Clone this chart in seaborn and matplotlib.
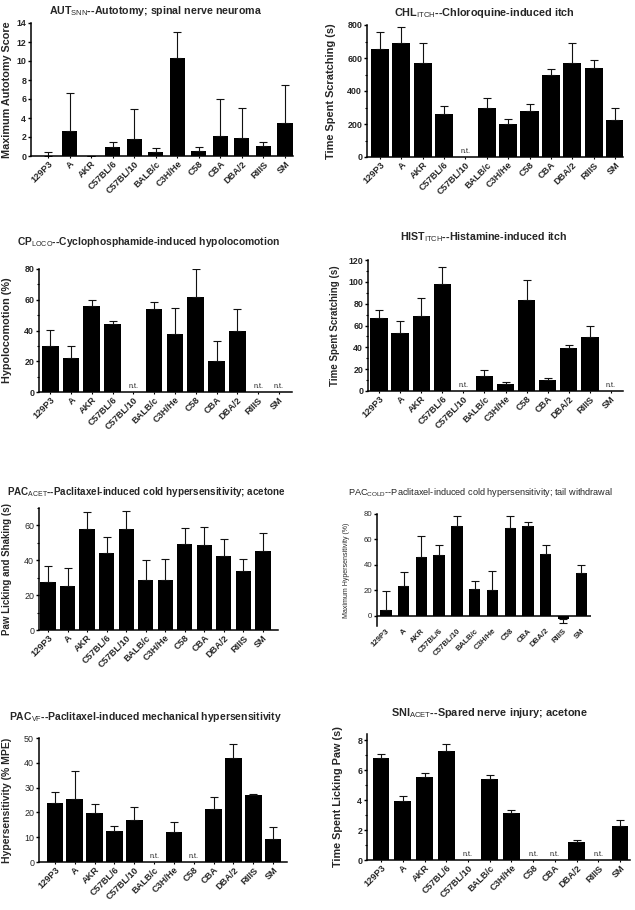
import numpy as np
import pandas as pd
import matplotlib
matplotlib.use("Agg")
import matplotlib.pyplot as plt
import seaborn as sns
from matplotlib.ticker import MultipleLocator, FixedLocator

sns.set_theme(style="ticks")
plt.rcParams['font.family'] = ['Liberation Sans', 'DejaVu Sans']
plt.rcParams['mathtext.fontset'] = 'custom'
plt.rcParams['mathtext.rm'] = 'Liberation Sans'
plt.rcParams['mathtext.bf'] = 'Liberation Sans:bold'

strains = ['129P3', 'A', 'AKR', 'C57BL/6', 'C57BL/10', 'BALB/c', 'C3H/He',
           'C58', 'CBA', 'DBA/2', 'RIIIS', 'SM']
NT = np.nan

# AUT_SNN
aut_mean = [0.03, 2.63, 0.0, 0.91, 1.75, 0.39, 10.35, 0.53, 2.14, 1.89, 1.09, 3.51]
aut_sem = [0.35, 4.04, 0.0, 0.53, 3.23, 0.49, 2.70, 0.42, 3.86, 3.20, 0.42, 3.96]
# CHL_ITCH
chl_mean = [654, 688, 571, 259, NT, 300, 198, 281, 496, 569, 540, 225]
chl_sem = [101, 97, 117, 49, NT, 60, 35, 41, 38, 119, 47, 73]
# CP_LOCO
cp_mean = [29.7, 22.3, 55.7, 44.3, NT, 53.8, 37.5, 61.8, 20.0, 39.9, NT, NT]
cp_sem = [10.9, 7.9, 4.0, 2.1, NT, 5.0, 17.4, 18.0, 13.2, 14.3, NT, NT]
# HIST_ITCH
hist_mean = [66.9, 53.1, 69.0, 98.0, NT, 14.0, 6.4, 83.0, 9.8, 39.1, 49.2, NT]
hist_sem = [7.3, 10.7, 16.2, 15.3, NT, 5.5, 2.1, 18.4, 2.4, 3.0, 10.6, NT]
# PAC_ACET
pacacet_mean = [27.8, 25.5, 58.1, 44.3, 58.1, 28.9, 28.9, 49.6, 48.7, 42.7, 34.1, 45.4]
pacacet_sem = [9.0, 10.3, 9.6, 9.0, 10.1, 11.0, 11.7, 9.1, 10.3, 9.6, 6.9, 10.2]
# PAC_COLD
paccold_mean = [4.7, 23.2, 46.3, 47.4, 70.8, 20.8, 20.3, 68.7, 70.8, 48.7, -2.6, 34.0]
paccold_sem = [14.8, 11.5, 16.3, 8.6, 7.9, 6.8, 14.7, 10.0, 3.1, 7.3, 3.4, 5.7]
# PAC_VF
pacvf_mean = [23.7, 25.4, 19.9, 12.4, 16.8, NT, 12.0, NT, 21.4, 42.0, 26.9, 9.1]
pacvf_sem = [4.4, 11.2, 3.6, 2.2, 5.3, NT, 4.3, NT, 4.9, 5.7, 0.6, 5.2]
# SNI_ACET
sni_mean = [6.77, 3.95, 5.54, 7.26, NT, 5.41, 3.12, NT, NT, 1.21, NT, 2.27]
sni_sem = [0.30, 0.30, 0.28, 0.47, NT, 0.24, 0.19, NT, NT, 0.13, NT, 0.38]

W, H = 635, 910
fig = plt.figure(figsize=(W / 100, H / 100), dpi=100)


def rect(l, t, r, b):
    return [l / W, 1 - b / H, (r - l) / W, (b - t) / H]


def panel(box, mean, sem, width, ylim, major, minor, xlim, ylabel, ylabel_size,
          ylabel_px, title, title_pos, title_size, bold=True, ytick_bold=True,
          xtick_bold=True, tick_size=6.4, xtick_size=6.6, zero_line=False,
          title_ha='center'):
    ax = fig.add_axes(rect(*box))
    mean = np.asarray(mean, dtype=float)
    sem = np.asarray(sem, dtype=float)
    df = pd.DataFrame({'strain': strains, 'value': mean})
    sns.barplot(data=df, x='strain', y='value', order=strains, color='black',
                saturation=1, width=width, errorbar=None, ax=ax, linewidth=0)
    pos = np.arange(len(strains))
    lower = np.where(mean < 0, sem, 0.0)
    upper = np.where(mean < 0, 0.0, sem)
    ax.errorbar(pos, mean, yerr=np.vstack([lower, upper]), fmt='none',
                ecolor='#111111', elinewidth=0.8, capsize=3.2, capthick=0.8)
    for i, v in enumerate(mean):
        if np.isnan(v):
            ax.annotate('n.t.', (i, 0), xytext=(0, 1.5), textcoords='offset points',
                        ha='center', va='bottom', fontsize=5.2, color='#222222')
    ax.set_xlim(*xlim)
    ax.set_ylim(*ylim)
    ax.yaxis.set_major_locator(FixedLocator(major))
    if minor:
        ax.yaxis.set_minor_locator(MultipleLocator(minor))
    sns.despine(ax=ax)
    for s in ['left', 'bottom']:
        ax.spines[s].set_linewidth(1.1)
        ax.spines[s].set_color('black')
    ax.tick_params(axis='both', which='major', length=2.5, width=1.0, color='black',
                   pad=1)
    ax.tick_params(axis='y', which='minor', length=1.5, width=0.8, color='black')
    ax.tick_params(axis='x', length=1.5, width=0.8)
    ax.set_xlabel('')
    ax.set_xticks(pos)
    ax.set_xticklabels(strains, rotation=45, ha='right', rotation_mode='anchor',
                       fontsize=xtick_size, fontweight='bold' if xtick_bold else 'normal')
    for lab in ax.get_yticklabels():
        lab.set_fontsize(tick_size)
        lab.set_fontweight('bold' if ytick_bold else 'normal')
    ax.set_ylabel(ylabel, fontsize=ylabel_size,
                  fontweight='bold' if bold else 'normal')
    l, t, r, b = box
    ax.yaxis.set_label_coords((ylabel_px - l) / (r - l), 0.5)
    if zero_line:
        ax.spines['bottom'].set_visible(False)
        ax.axhline(0, color='black', lw=1.1)
        ax.tick_params(axis='x', length=0)
    fig.text(title_pos[0] / W, 1 - title_pos[1] / H, title, ha=title_ha, va='center',
             fontsize=title_size, fontweight='bold' if bold else 'normal')
    return ax


panel((31, 23, 293, 156), aut_mean, aut_sem, 0.7, (0, 14), range(0, 15, 2), None,
      (-0.79, 11.37), 'Maximum Autotomy Score', 7.8, 12,
      r'AUT$_{\mathrm{SNN}}$--Autotomy; spinal nerve neuroma', (155, 11), 7.7)

panel((367, 25, 623, 157), chl_mean, chl_sem, 0.85, (0, 800), range(0, 801, 200), 100,
      (-0.6, 11.37), 'Time Spent Scratching (s)', 7.9, 336,
      r'CHL$_{\mathrm{ITCH}}$--Chloroquine-induced itch', (484, 13), 7.8)

panel((39, 269, 292, 392), cp_mean, cp_sem, 0.8, (0, 80), range(0, 81, 20), 10,
      (-0.54, 11.63), 'Hypolocomotion (%)', 7.8, 12,
      r'CP$_{\mathrm{LOCO}}$--Cyclophosphamide-induced hypolocomotion', (149, 242), 7.4)

panel((368, 260, 623, 391), hist_mean, hist_sem, 0.82, (0, 120), range(0, 121, 20), 10,
      (-0.52, 11.57), 'Time Spent Scratching (s)', 7.0, 340,
      r'HIST$_{\mathrm{ITCH}}$--Histamine-induced itch', (484, 237), 7.7)

panel((39, 508, 278, 630), pacacet_mean, pacacet_sem, 0.78, (0, 70), range(0, 61, 20), 10,
      (-0.46, 11.77), 'Paw Licking and Shaking (s)', 7.0, 12,
      r'PAC$_{\mathrm{ACET}}$--Paclitaxel-induced cold hypersensitivity; acetone', (7, 492), 7.1,
      ytick_bold=False, title_ha='left')

panel((377, 514, 591, 626), paccold_mean, paccold_sem, 0.64, (-8, 80), range(0, 81, 20), None,
      (-0.5, 11.55), 'Maximum Hypersensitivity (%)', 5.0, 350,
      r'PAC$_{\mathrm{COLD}}$--Paclitaxel-induced cold hypersensitivity; tail withdrawal', (480, 493), 6.6,
      bold=False, ytick_bold=False, xtick_bold=True, tick_size=5.6, xtick_size=5.6,
      zero_line=True)

panel((39, 738, 287, 862), pacvf_mean, pacvf_sem, 0.84, (0, 50), range(0, 51, 10), None,
      (-0.8, 11.7), 'Hypersensitivity (% MPE)', 7.5, 12,
      r'PAC$_{\mathrm{VF}}$--Paclitaxel-induced mechanical hypersensitivity', (145, 717), 7.5,
      ytick_bold=False)

panel((367, 734, 630, 860), sni_mean, sni_sem, 0.77, (0, 8.4), range(0, 9, 2), 1,
      (-0.65, 11.46), 'Time Spent Licking Paw (s)', 7.8, 343,
      r'SNI$_{\mathrm{ACET}}$--Spared nerve injury; acetone', (489, 713), 7.8)

fig.savefig('out.png', dpi=100, facecolor='white')
